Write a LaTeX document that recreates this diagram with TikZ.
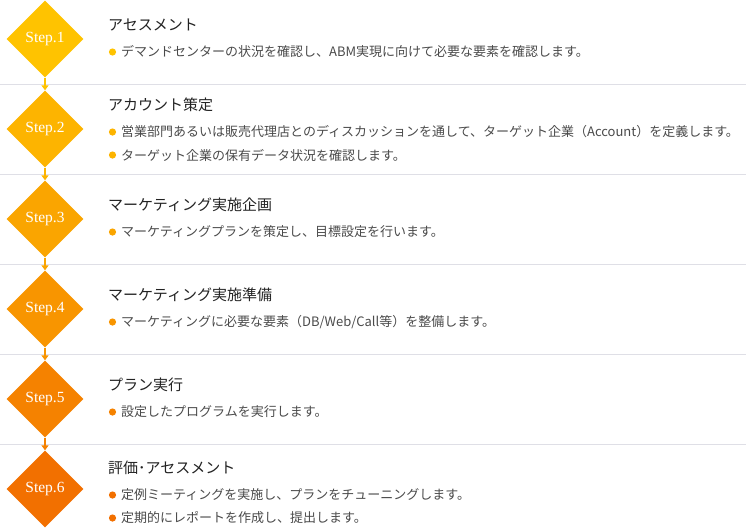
\documentclass[tikz,border=0pt]{standalone}
\usepackage{fontspec}
\usepackage{xcolor}
\usepackage{tikz}
\usetikzlibrary{arrows, arrows.meta}
\usetikzlibrary{positioning}
\usetikzlibrary{shapes.geometric}
\newfontfamily\jpfont{Noto Sans CJK JP}
\newfontfamily\stepfont{Liberation Serif}
\definecolor{stepc1}{HTML}{FFC300}
\definecolor{stepc2}{HTML}{FDB400}
\definecolor{stepc3}{HTML}{FAA500}
\definecolor{stepc4}{HTML}{F89500}
\definecolor{stepc5}{HTML}{F58200}
\definecolor{stepc6}{HTML}{F27000}
\definecolor{sepgray}{HTML}{DFDFE6}
\definecolor{titlegray}{HTML}{222222}
\definecolor{itemgray}{HTML}{4A4A4A}
\begin{document}
\begin{tikzpicture}[x=1pt, y=-1pt,
	stepbox/.style={diamond, minimum size=77pt, inner sep=0pt, text=white, font=\stepfont\fontsize{15.5}{15.5}\selectfont},
	title/.style={anchor=west, inner sep=0pt, text=titlegray, font=\jpfont\fontsize{15}{15}\selectfont},
	item/.style={anchor=west, inner sep=0pt, text=itemgray, font=\jpfont\fontsize{13}{13}\selectfont},
	sep/.style={draw=sepgray, line width=1pt},
	flow/.style={line width=1.8pt, -{Triangle[width=7pt, length=5pt]}}]
			\useasboundingbox (0,0) rectangle (746,528);
			\foreach \y in {84.5, 174.5, 264.5, 354.5, 444.5}
			{
				\draw[sep] (0,\y) -- (746,\y);
			}
			\foreach \i in {1,...,6}
			{
				\node[stepbox, fill=stepc\i](s\i) at (45,{39+90*(\i-1)}){Step.\i};
			}
			\foreach \i[evaluate=\i as \j using int(\i + 1)] in {1,...,5}
			{
				\draw[flow, stepc\i] (s\i) -- (s\j);
			}
			
			\node[title](h1) at (108,25){アセスメント};
			\node[item](t1a) at (121,52){デマンドセンターの状況を確認し、ABM実現に向けて必要な要素を確認します。};
			
			\node[title](h2) at (108,105){アカウント策定};
			\node[item](t2a) at (121,132){営業部門あるいは販売代理店とのディスカッションを通して、ターゲット企業（Account）を定義します。};
			\node[item](t2b) at (121,155){ターゲット企業の保有データ状況を確認します。};
			
			\node[title](h3) at (108,205){マーケティング実施企画};
			\node[item](t3a) at (121,232){マーケティングプランを策定し、目標設定を行います。};
			
			\node[title](h4) at (108,295){マーケティング実施準備};
			\node[item](t4a) at (121,322){マーケティングに必要な要素（DB/Web/Call等）を整備します。};
			
			\node[title](h5) at (108,385){プラン実行};
			\node[item](t5a) at (121,412){設定したプログラムを実行します。};
			
			\node[title](h6) at (108,468){評価･アセスメント};
			\node[item](t6a) at (121,495){定例ミーティングを実施し、プランをチューニングします。};
			\node[item](t6b) at (121,518){定期的にレポートを作成し、提出します。};
			
			\foreach \t/\c in {t1a/stepc1, t2a/stepc2, t2b/stepc2, t3a/stepc3, t4a/stepc4, t5a/stepc5, t6a/stepc6, t6b/stepc6}
			{
				\fill[\c] ([xshift=-8.5pt]\t.west) circle (3.6pt);
			}
		\end{tikzpicture}
\end{document}
